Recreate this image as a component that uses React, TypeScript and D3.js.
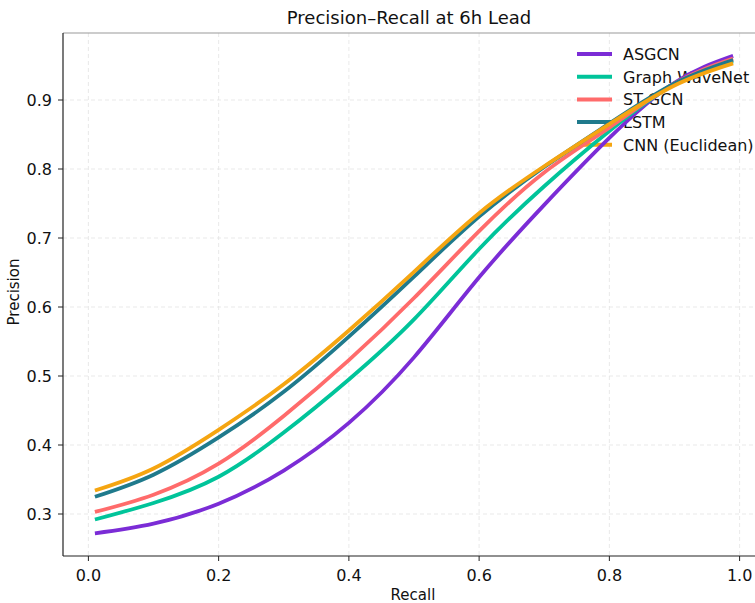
import React from 'react';
import * as d3 from 'd3';

const recall = [0.01, 0.1, 0.2, 0.3, 0.4, 0.5, 0.6, 0.7, 0.8, 0.9, 0.99];
const asgcn = [0.272, 0.286, 0.315, 0.363, 0.432, 0.527, 0.643, 0.748, 0.845, 0.925, 0.964];
const graphWaveNet = [0.292, 0.316, 0.354, 0.418, 0.495, 0.582, 0.684, 0.775, 0.855, 0.923, 0.956];
const stgcn = [0.303, 0.328, 0.373, 0.442, 0.523, 0.613, 0.710, 0.795, 0.860, 0.924, 0.960];
const lstm = [0.325, 0.357, 0.411, 0.477, 0.557, 0.644, 0.731, 0.803, 0.866, 0.924, 0.958];
const cnn = [0.334, 0.366, 0.422, 0.488, 0.566, 0.651, 0.736, 0.804, 0.865, 0.921, 0.953];

const seriesNames = ['ASGCN', 'Graph WaveNet', 'ST-GCN', 'LSTM', 'CNN (Euclidean)'];
const seriesValues = [asgcn, graphWaveNet, stgcn, lstm, cnn];
const seriesColors = ['#7b2cd6', '#00c49a', '#ff6b6b', '#1f7a8c', '#f5a511'];

const xTicks = [0.0, 0.2, 0.4, 0.6, 0.8, 1.0];
const yTicks = [0.3, 0.4, 0.5, 0.6, 0.7, 0.8, 0.9];

const W = 755;
const H = 603;
const FONT = 'DejaVu Sans, sans-serif';

export default function App() {
  const left = 63, top = 33, bottom = 556, right = 765;
  const x = d3.scaleLinear().domain([-0.039, 1.039]).range([left, right]);
  const y = d3.scaleLinear().domain([0.3, 0.9]).range([514, 100]);

  const line = d3
    .line<number>()
    .x((_, i) => x(recall[i]))
    .y((v) => y(v))
    .curve(d3.curveNatural);

  return (
    <svg
      width={W}
      height={H}
      style={{ position: 'absolute', left: 0, top: 0, background: '#fff' }}
      fontFamily={FONT}
    >
      <rect x={0} y={0} width={W} height={H} fill="#fff" />
      {/* grid */}
      {xTicks.map((t) => (
        <line key={'gx' + t} x1={x(t)} x2={x(t)} y1={top} y2={bottom} stroke="#e3e3e3" strokeWidth={0.8} strokeDasharray="4,3" />
      ))}
      {yTicks.map((t) => (
        <line key={'gy' + t} x1={left} x2={right} y1={y(t)} y2={y(t)} stroke="#e3e3e3" strokeWidth={0.8} strokeDasharray="4,3" />
      ))}

      {/* legend (under the lines) */}
      {seriesNames.map((n, i) => {
        const ly = 54 + i * 22.7;
        return (
          <g key={'lg' + n}>
            <line x1={577} x2={612} y1={ly} y2={ly} stroke={seriesColors[i]} strokeWidth={4} />
            <text x={623} y={ly + 5.8} fontSize={16} fill="#111">
              {n}
            </text>
          </g>
        );
      })}

      {/* lines */}
      {seriesValues.map((vals, i) => (
        <path key={'s' + i} d={line(vals) || ''} fill="none" stroke={seriesColors[i]} strokeWidth={3.8} strokeLinejoin="round" strokeLinecap="butt" />
      ))}

      {/* spines */}
      <line x1={left} x2={right} y1={top} y2={top} stroke="#999" strokeWidth={1.2} />
      <line x1={left} x2={left} y1={top} y2={bottom} stroke="#222" strokeWidth={1.2} />
      <line x1={left} x2={right} y1={bottom} y2={bottom} stroke="#222" strokeWidth={1.2} />

      {/* x ticks */}
      {xTicks.map((t) => (
        <g key={'xt' + t}>
          <line x1={x(t)} x2={x(t)} y1={bottom} y2={bottom + 5} stroke="#222" strokeWidth={1} />
          <text x={x(t)} y={581} fontSize={16} textAnchor="middle" fill="#111">
            {t.toFixed(1)}
          </text>
        </g>
      ))}
      {/* y ticks */}
      {yTicks.map((t) => (
        <g key={'yt' + t}>
          <line x1={left - 5} x2={left} y1={y(t)} y2={y(t)} stroke="#222" strokeWidth={1} />
          <text x={52} y={y(t) + 6} fontSize={16} textAnchor="end" fill="#111">
            {t.toFixed(1)}
          </text>
        </g>
      ))}

      {/* axis labels */}
      <text x={413} y={600} fontSize={15} textAnchor="middle" fill="#111">
        Recall
      </text>
      <text transform={`translate(19,292) rotate(-90)`} fontSize={15} textAnchor="middle" fill="#111">
        Precision
      </text>

      {/* title */}
      <text x={409} y={24} fontSize={18} textAnchor="middle" fill="#111">
        Precision–Recall at 6h Lead
      </text>
    </svg>
  );
}
